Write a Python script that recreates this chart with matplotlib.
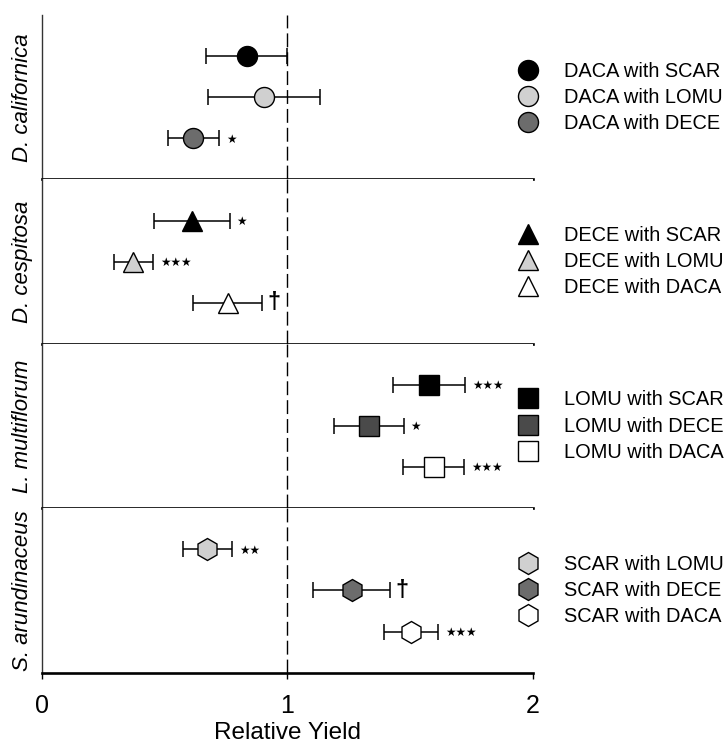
import matplotlib
matplotlib.use("Agg")
import matplotlib.pyplot as plt

plt.rcParams['font.family'] = ['Liberation Sans', 'DejaVu Sans']

# Focal species (one panel each) and their neighbour treatments
species = ["D. californica", "D. cespitosa", "L. multiflorum", "S. arundinaceus"]
focal_codes = ["DACA", "DECE", "LOMU", "SCAR"]
neighbours = [
    ["SCAR", "LOMU", "DECE"],
    ["SCAR", "LOMU", "DACA"],
    ["SCAR", "DECE", "DACA"],
    ["LOMU", "DECE", "DACA"],
]

# Relative yield (mean) and standard error per neighbour treatment
daca_mean = [0.835, 0.905, 0.617]
daca_se = [0.165, 0.23, 0.105]
dece_mean = [0.61, 0.372, 0.757]
dece_se = [0.155, 0.08, 0.14]
lomu_mean = [1.578, 1.332, 1.597]
lomu_se = [0.147, 0.143, 0.124]
scar_mean = [0.674, 1.263, 1.505]
scar_se = [0.10, 0.157, 0.11]

means = [daca_mean, dece_mean, lomu_mean, scar_mean]
errors = [daca_se, dece_se, lomu_se, scar_se]

# Significance of difference from 1
significance = [
    ["", "", "*"],
    ["*", "***", "†"],
    ["***", "*", "***"],
    ["**", "†", "***"],
]

# Styling
row_y = [3, 2, 1]
markers = ['o', '^', 's', 'h']
marker_sizes = [14.4, 15.0, 13.9, 15.8]
BLACK, LIGHT, DARK, DARKER, WHITE = '#000000', '#d0d0d0', '#6c6c6c', '#4a4a4a', '#ffffff'
fills = [
    [BLACK, LIGHT, DARK],
    [BLACK, LIGHT, WHITE],
    [BLACK, DARKER, WHITE],
    [LIGHT, DARK, WHITE],
]

W, H = 728, 746
fig = plt.figure(figsize=(W / 100, H / 100), dpi=100)
gs = fig.add_gridspec(4, 1, hspace=0,
                      left=42 / W, right=532.5 / W,
                      top=1 - 15 / H, bottom=1 - 672.7 / H)

axes = []
for i in range(4):
    ax = fig.add_subplot(gs[i], sharex=axes[0] if axes else None)
    axes.append(ax)
    ax.set_xlim(0, 2)
    ax.set_ylim(0, 4)
    ax.axvline(1, color='black', lw=1.0, ls=(0, (10, 3.6)), zorder=1)

    for j in range(3):
        m = means[i][j]
        e = errors[i][j]
        y = row_y[j]
        ax.errorbar(m, y, xerr=e, fmt='none', ecolor='black',
                    elinewidth=1.1, capsize=5.6, capthick=1.1, zorder=2)
        ax.plot(m, y, ls='none', marker=markers[i], ms=marker_sizes[i],
                mfc=fills[i][j], mec='black', mew=1.0, zorder=3,
                label=f"{focal_codes[i]} with {neighbours[i][j]}")
        sig = significance[i][j]
        if sig == "†":
            ax.annotate(sig, xy=(m + e, y), xytext=(4, 0),
                        textcoords='offset points', ha='left', va='center',
                        fontsize=17, fontweight='bold')
        elif sig:
            ax.annotate("★" * len(sig), xy=(m + e, y), xytext=(5, -0.5),
                        textcoords='offset points', ha='left', va='center',
                        fontsize=8.5, family='DejaVu Sans')

    ax.spines['top'].set_visible(False)
    ax.spines['right'].set_visible(False)
    ax.spines['left'].set_linewidth(1.0)
    ax.spines['left'].set_color('#333333')
    ax.spines['bottom'].set_linewidth(1.9)
    ax.set_yticks([])

    ax.set_ylabel(species[i], fontsize=16, style='italic')
    ax.yaxis.label.set_va('center')
    ax.yaxis.set_label_coords(-0.039, 0.5)

    ax.legend(loc='center left', bbox_to_anchor=(0.9705, 0.5), frameon=False,
              fontsize=14.4, handlelength=1.0, handletextpad=1.3,
              borderpad=0, borderaxespad=0, labelspacing=0.36, numpoints=1)

    if i < 3:
        ax.tick_params(axis='x', bottom=False, labelbottom=False)

bottom_ax = axes[-1]
bottom_ax.set_xticks([0, 1, 2])
bottom_ax.set_xticklabels(["0", "1", "2"])
bottom_ax.tick_params(axis='x', direction='out', length=4, width=1.0,
                      labelsize=18, pad=11)
bottom_ax.set_xlabel("Relative Yield", fontsize=17.5)
bottom_ax.xaxis.set_label_coords(0.5, -0.30)

fig.savefig("out.png", dpi=100)
